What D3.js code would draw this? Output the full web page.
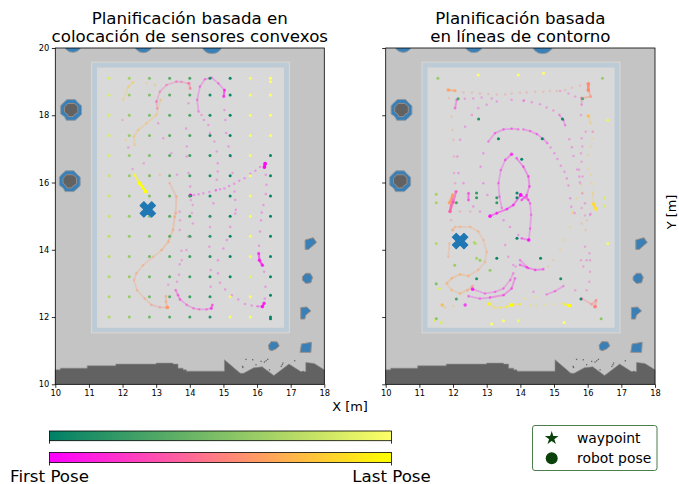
<!DOCTYPE html>
<html>
<head>
<meta charset="utf-8">
<script src="https://cdnjs.cloudflare.com/ajax/libs/d3/7.8.5/d3.min.js"></script>
<style>
  body { margin: 0; background: #fff; }
  text { font-family: "DejaVu Sans", sans-serif; fill: #000; }
</style>
</head>
<body>
<svg id="chart" width="679" height="484"></svg>
<script>
// waypoints: x, y, colour position on the green-yellow bar
const leftWaypoints = [
  [11.6,19.1,.85],[11.6,18.6,.85],[11.6,18,.85],[11.6,17.4,.85],[11.6,16.8,.85],[11.6,16.2,.8],[11.6,15.6,.8],[11.6,15,.8],[11.6,14.4,.75],[11.6,13.8,.75],[11.6,13.2,.7],[11.6,12.6,.7],[11.6,12,.7],
  [12.2,19.1,.65],[12.2,18.6,.6],[12.2,18,.6],[12.2,17.4,.6],[12.2,16.8,.6],[12.2,16.2,.6],[12.2,15.6,.6],[12.2,15,.6],[12.2,14.4,.6],[12.2,13.8,.6],[12.2,13.2,.6],[12.2,12.6,.6],[12.2,12,.6],
  [12.8,19.1,.5],[12.8,18.6,.5],[12.8,18,.5],[12.8,17.4,.5],[12.8,16.8,.5],[12.8,16.2,.5],[12.8,15.6,.5],[12.8,15,.5],[12.8,14.4,.5],[12.8,13.8,.45],[12.8,13.2,.45],[12.8,12.6,.45],[12.8,12,.45],
  [13.4,19.1,.35],[13.4,18.6,.35],[13.4,18,.35],[13.4,17.4,.35],[13.4,16.8,.35],[13.4,16.2,.35],[13.4,15.6,.35],[13.4,15,.35],[13.4,14.4,.35],[13.4,13.8,.35],[13.4,13.2,.35],[13.4,12.6,.35],[13.4,12,.35],
  [14,19.1,.3],[14,18.6,.3],[14,18,.3],[14,17.4,.3],[14,16.8,.25],[14,16.2,.25],[14,15.6,.2],[14,15,.25],[14,14.4,.25],[14,13.8,.25],[14,13.2,.25],[14,12.6,.25],[14,12,.25],
  [14.6,19.1,.1],[14.6,18.6,.08],[14.6,18,.1],[14.6,17.4,.1],[14.6,16.8,.15],[14.6,16.2,.12],[14.6,15.6,.1],[14.6,15,.15],[14.6,14.4,.15],[14.6,13.8,.15],[14.6,13.2,.15],[14.6,12.6,.15],[14.6,12,.15],
  [15.2,19.1,.04],[15.2,18.6,.04],[15.2,18,.04],[15.2,17.4,.04],[15.2,16.8,.04],[15.2,16.2,.04],[15.2,15.6,.04],[15.2,15,.04],[15.2,14.4,.04],[15.2,13.8,.04],[15.2,13.2,.04],[15.2,12.6,.98],[15.2,12,.98],
  [15.8,19.1,.98],[15.8,18.6,.98],[15.8,18,.98],[15.8,17.4,.98],[15.8,16.8,.98],[15.8,16.2,.98],[15.8,15.6,.98],[15.8,15,.98],[15.8,14.4,.98],[15.8,13.8,.98],[15.8,13.2,.9],[15.8,12.6,.98],[15.8,12,.98],
  [16.4,19.1,1],[16.4,19,1],[16.4,18.6,1],[16.4,18,1],[16.4,17.4,1],[16.4,16.8,.02],[16.4,16.2,.02],[16.4,15.6,.02],[16.4,15,.02],[16.4,14.4,.02],[16.4,13.8,.02],[16.4,13.2,.02],[16.4,12.65,.02],[16.4,12,.02],[16.4,11.95,.02]
];
const rightWaypoints = [
  [11.55,19.1,.6],[12.75,19.2,1],[13.94,19.2,1],[14.69,19.25,1],[16.44,19.1,.6],[12.15,18.49,.3],[15.85,18.49,.35],[12.76,17.89,.15],[15.25,17.89,.05],[16.6,17.85,.92],
  [13.35,17.3,.05],[14.65,17.3,.05],[14.04,16.69,.02],[11.5,15.65,.65],[11.5,15.4,.65],[12.1,15.4,.3],[12.7,15.69,.2],[12.7,15.55,.2],[13.3,15.55,.2],[13.3,15.4,.2],
  [13.9,15.69,.05],[13.9,15.55,.05],[16.5,15.54,.85],[16.5,15.3,.85],[13.9,14.34,.02],[11.5,14.19,.7],[12.63,14.22,.7],[12.66,14.19,.7],[16.6,14.19,.95],
  [12.7,13.75,.65],[12.8,13.69,.6],[13.3,13.75,.05],[14.6,13.75,.05],[12.05,13.54,.6],[13.1,13.39,.6],[12.7,13.14,.15],[15.2,13.14,.1],[11.5,12.99,.5],[11.6,12.84,.85],
  [12.1,12.54,.3],[15.8,12.54,.1],[11.5,11.95,.5],[11.45,11.9,.85],[16.4,11.95,.55],[11.65,11.84,.85],[13.15,11.79,1],[15.3,11.84,1],[13.5,11.89,1],[13.94,11.89,.95]
];

// robot poses: x, y, colour position on the magenta-yellow bar, samples stacked at that spot
const leftPoses = [
  [16.24,16.56,.02,8],[16.22,16.46,.02,8],[16.09,16.46,.03,1],[15.95,16.35,.03,1],[15.8,16.26,.03,1],[15.63,16.13,.03,1],[15.47,16.05,.03,1],[15.32,15.96,.03,1],[15.17,15.9,.03,1],[15.03,15.82,.04,1],[14.9,15.8,.04,1],[14.77,15.76,.04,1],[14.58,15.72,.04,1],[14.4,15.68,.04,1],[14.26,15.65,.04,1],[14.13,15.63,.05,1],[14.02,15.62,.05,8],
  [16.26,16.23,.04,1],[16.28,15.93,.04,1],[16.26,15.66,.04,1],[16.19,15.33,.04,1],[16.14,15.11,.05,1],[16.12,14.88,.05,1],[16.09,14.54,.05,1],[16.06,14.12,.05,1],[16.05,13.89,.05,5],[16.07,13.69,.05,6],[16.16,13.54,.05,6],[16.21,13.35,.05,1],[16.25,12.9,.05,1],[16.23,12.55,.05,1],[16.21,12.41,.05,6],[16.16,12.31,.05,7],
  [16.01,12.32,.06,2],[15.84,12.34,.06,1],[15.64,12.39,.06,1],[15.44,12.52,.06,1],[15.25,12.65,.06,1],[15.05,12.82,.06,1],[14.9,13.02,.06,1],[14.84,13.3,.06,1],[14.84,13.69,.06,1],[15,14.04,.06,1],[15.1,14.29,.06,1],[15.2,14.68,.06,1],[15.35,15.08,.06,1],[15.37,15.19,.06,1],[15.35,15.48,.06,1],[15.33,15.73,.06,1],[15.27,16.28,.06,1],[15.22,16.77,.06,1],[15.15,17.07,.06,1],[15.08,17.47,.06,1],[15.06,17.86,.06,1],[15.03,18.16,.07,1],[15.01,18.56,.07,5],[15.03,18.75,.07,5],
  [14.85,18.95,.1,2],[14.65,19.12,.1,2],[14.45,19.07,.1,2],[14.3,18.85,.1,2],[14.22,18.46,.1,2],[14.26,18.11,.1,2],[14.35,18.01,.1,1],[14.42,17.86,.1,1],[14.55,17.71,.1,1],[14.6,17.47,.1,1],[14.73,17.22,.1,1],[14.8,16.92,.1,1],[14.83,16.57,.1,1],[14.83,16.33,.1,1],[14.8,16.08,.1,1],[14.78,15.78,.1,1],[14.7,15.38,.1,1],[14.6,14.99,.1,1],[14.6,14.68,.1,1],[14.58,14.09,.1,1],[14.6,13.79,.1,1],[14.62,13.4,.1,1],[14.62,12.9,.1,1],[14.67,12.36,.1,4],[14.64,12.26,.1,5],
  [14.5,12.23,.15,2],[14.28,12.23,.15,2],[14.11,12.26,.15,2],[13.91,12.36,.15,2],[13.71,12.52,.15,3],[13.65,12.65,.15,3],[13.58,12.8,.15,3],[13.62,13.05,.15,1],[13.68,13.26,.15,1],[13.7,13.57,.15,1],[13.75,13.97,.15,1],[13.7,14.59,.15,1],[13.7,15.13,.15,1],[13.9,13.99,.2,1],[13.95,14.39,.2,1],[14.03,14.39,.2,1],[14.09,14.78,.2,1],[13.71,14.88,.2,1],[13.76,13.69,.2,1],[14.03,15.48,.2,1],[14.09,15.33,.2,1],[14.06,15.09,.2,1],
  [14.01,15.88,.1,1],[13.96,16.28,.1,1],[13.91,16.77,.1,1],[13.91,17.07,.1,1],[13.89,17.61,.1,1],[13.96,18.36,.2,1],[14.01,18.8,.45,5],[13.98,18.95,.4,4],[13.95,18.95,.35,2],[13.75,18.99,.3,2],[13.6,19,.3,3],[13.31,18.9,.25,2],[13.11,18.7,.3,2],[13.01,18.41,.3,4],[13.03,18.2,.25,2],
  [13.06,17.76,.2,1],[13.21,17.32,.2,1],[13.45,16.87,.18,1],[13.62,16.23,.2,1],[13.4,15.98,.55,2],[13.6,15.58,.6,3],[13.58,15.09,.6,3],[13.55,14.98,.6,3],[13.5,14.59,.62,3],[13.36,14.24,.62,3],[13.16,13.99,.62,3],[12.91,13.79,.6,2],[12.61,13.54,.6,2],[12.41,13.3,.6,2],[12.34,13.1,.6,2],[12.43,12.8,.6,2],[12.66,12.55,.6,2],[12.86,12.36,.5,2],[13.11,12.29,.5,2],[13.33,12.29,.6,8],[13.29,12.46,.6,3],[13.29,12.62,.6,3],[13.36,12.96,.2,1],
  [13.13,18.46,.7,3],[13.01,18.01,.72,2],[12.71,17.76,.72,2],[12.46,17.56,.72,2],[12.34,17.37,.72,2],[12.36,17.12,.72,2],[12.17,17.04,.2,1],[12.3,16.4,.2,1],[12.36,16.23,1,5],[12.51,15.98,1,8],[12.69,15.73,1,8],
  [12.96,18.9,.72,3],[12.71,18.95,.75,1],[12.31,18.98,.78,4],[12.17,18.85,.78,2],[12.02,18.46,.78,2],[12,17.86,.3,1],[12.1,17.27,.78,1],[12.63,16.57,.2,1],[12.81,16.23,.6,1],[13.11,16.23,.6,1]
];
const rightPoses = [
  [11.86,18.75,.62,7],[12.06,18.73,.62,5],[12.31,18.68,.5,1],[12.56,18.67,.5,1],[12.8,18.65,.5,1],[13.05,18.63,.5,1],[13.3,18.62,.5,1],[13.55,18.62,.5,1],[13.74,18.65,.5,1],[13.99,18.67,.5,1],[14.19,18.68,.5,1],[14.44,18.7,.5,1],[14.68,18.7,.55,1],[14.88,18.72,.55,1],[15.08,18.72,.55,1],[15.33,18.75,.55,1],[15.53,18.82,.55,1],[15.77,18.88,.55,1],[16.02,18.93,.55,8],[16.02,18.75,.55,8],[16.09,18.56,.55,4],
  [15.82,18.51,.2,4],[15.82,18.31,.2,2],[15.63,18.56,.2,1],[15.43,18.65,.2,1],[15.18,18.72,.2,1],[14.11,18.44,.1,1],[14.34,18.39,.1,1],[14.58,18.33,.1,1],[14.78,18.23,.1,1],[14.98,18.14,.1,1],[15.16,18.01,.1,2],[15.28,17.86,.1,2],[15.33,17.7,.1,2],[15.45,17.29,.1,1],[15.53,17.05,.1,1],[15.58,16.79,.1,1],[15.69,16.39,.1,1],[15.75,16.18,.1,1],[15.77,16,.1,1],[15.84,15.68,.1,1],[15.92,15.38,.1,1],[16.07,15.04,.1,1],
  [14.09,17.58,.05,2],[14.29,17.53,.05,2],[14.49,17.44,.05,2],[14.68,17.3,.05,2],[14.8,17.17,.05,2],[14.9,17.04,.05,1],[15.01,16.87,.05,1],[15.1,16.7,.05,1],[15.2,16.5,.05,1],[15.31,16.32,.05,1],[15.38,16.12,.05,1],[15.43,15.91,.05,1],[15.48,15.53,.05,1],[15.51,15.28,.05,1],[15.61,15.09,.05,1],
  [16.02,17.98,.75,7],[16.09,17.76,.78,2],[16.15,17.51,.78,1],[16.13,17.3,.78,1],[16.1,17.07,.78,1],[16.02,16.82,.78,1],[16.02,16.42,.78,1],[16.09,16.23,.8,1],[16.12,15.98,.8,1],[16.15,15.7,.8,2],[16.17,15.36,.85,7],[16.25,15.21,.9,7],
  [15.94,17.51,.2,1],[15.82,17.32,.2,1],[15.84,17.07,.2,1],[15.8,16.87,.2,1],[15.82,16.62,.2,1],[15.75,16.38,.2,1],[15.85,16.18,.2,1],[15.8,15.95,.7,1],[15.86,15.7,.8,1],[15.67,15.53,.8,1],[15.82,15.24,.3,1],[15.56,15.12,.8,1],[15.92,15.02,.3,1],[16.09,15.07,.3,1],[15.8,18.01,.2,1],[16.15,17.51,.2,1],
  [16.22,12.31,.5,8],[16.25,12.5,.5,4],[16.12,12.38,.5,3],[15.82,12.55,.2,4],[15.63,12.8,.2,1],[15.97,12.8,.2,1],[16.05,13.05,.2,1],[16.07,13.35,.2,1],[15.87,13.5,.2,1],[15.8,13.69,.2,1],[15.97,13.69,.2,1],[16.07,13.69,.2,1],[15.92,14.09,.2,1],[16.05,13.9,.2,1],[15.94,14.59,.6,1],[15.97,14.88,.6,1],[15.82,14.78,.6,1],[15.53,15.08,.8,1],[15.48,14.68,.8,1],[15.33,14.29,.8,1],[15.18,13.99,.8,1],[14.98,13.69,.7,1],[14.83,13.5,.7,1],
  [14.68,13.42,.06,3],[14.44,13.4,.06,3],[14.19,13.48,.06,3],[13.99,13.55,.06,3],[15.28,12.92,.1,2],[15.03,12.77,.1,2],[14.78,12.67,.1,2],[14.39,12.75,.1,1],[14.44,12.6,.9,1],[14.14,12.55,.9,1],
  [15.46,12.34,1,8],[15.3,12.38,.95,4],[15.23,12.41,.9,1],[14.98,12.38,.9,1],[14.73,12.36,.9,1],[14.49,12.33,.9,1],[14.29,12.36,.9,1],[13.99,12.38,.92,3],[13.74,12.36,1,8],[13.58,12.3,.95,3],[13.4,12.28,.9,2],[13.25,12.28,.9,2],[13.07,12.39,.95,7],
  [12.36,12.36,.02,6],[12.01,12.33,.7,1],[11.76,12.29,.7,1],[11.68,12.36,.72,7],[12.58,12.83,.05,7],[12.95,12.7,.1,2],[13.25,12.75,.1,2],[13.5,12.85,.12,2],[13.7,13.1,.12,2],[13.79,13.3,.12,2],[13.79,13.55,.12,1],[13.64,13.79,.1,1],[13.55,14.14,.1,1],
  [12.46,12.62,.06,3],[12.8,12.55,.06,2],[13.1,12.58,.1,3],[13.5,12.65,.1,3],[13.74,12.85,.1,3],[13.84,13.15,.1,3],[13.86,13.5,.1,1],
  [11.99,14.59,.62,5],[12.06,14.68,.62,2],[12.21,14.68,.62,2],[12.51,14.68,.62,2],[12.75,14.54,.62,2],[12.9,14.29,.62,2],[13,13.94,.62,2],[12.95,13.64,.62,2],[12.75,13.4,.62,2],[12.46,13.22,.65,3],[12.21,13.27,.65,3],[11.96,13.15,.65,3],[11.81,13,.65,3],[11.96,12.8,.65,2],[12.21,12.7,.65,3],[12.43,12.8,.6,3],[12.58,12.92,.5,4],[11.89,14.19,.62,2],[11.86,13.79,.62,2],
  [13.1,15,.02,7],[13.3,15.09,.03,4],[13.6,15.21,.03,4],[13.79,15.33,.03,4],[14.01,15.63,.01,8],[14.24,15.48,.04,3],[13.74,16.84,.05,6],[13.55,16.67,.05,3],[13.42,16.37,.05,2],[13.35,15.98,.05,2],[13.38,15.58,.05,2],[13.45,15.24,.05,2],
  [13.89,16.72,.06,3],[14.09,16.47,.06,3],[14.24,16.18,.06,3],[14.27,15.88,.06,3],[14.19,15.63,.06,3],[14.04,15.48,.06,3],[14.19,15.58,.05,2],[14.29,15.38,.05,2],[14.32,15.04,.05,2],[14.29,14.63,.05,2],[14.25,14.29,.02,7],[14.04,14.34,.04,3],[13.94,14.44,.04,1],[13.69,14.68,.04,1],[13.5,14.88,.04,1],[13.3,15.08,.04,1],[13.99,13.69,.06,2],[14.24,13.45,.06,2],
  [13.94,17.58,.05,2],[13.74,17.6,.05,2],[13.5,17.58,.05,2],[13.25,17.47,.05,2],[13.05,17.22,.05,2],[12.9,16.87,.05,1],[12.82,16.47,.05,1],[12.9,15.98,.05,1],[13.02,15.63,.05,1],
  [13.3,18.41,.08,1],[13,18.31,.08,1],[12.75,18.21,.08,2],[12.56,18.01,.08,1],[12.36,17.66,.08,1],[12.21,17.27,.08,1],[12.13,16.77,.08,1],[12.16,16.28,.08,1],[12.31,15.98,.08,1],[12.46,15.68,.08,4],[12.46,15.48,.08,4],[12.6,15.29,.08,1],[12.8,15.14,.08,1],
  [12.11,18.46,.15,3],[12.06,18.21,.15,3],[12.35,18.49,.15,1],[12.6,18.5,.15,1],[12.85,18.53,.15,1],[13.15,18.5,.15,1],[13.74,18.46,.15,1],[14.09,18.43,.15,1],
  [11.88,18.51,.6,1],[11.96,17.96,.6,1],[11.98,17.56,.6,1],[12.01,17.27,.5,1],[12.03,16.77,.4,1],[12.03,16.28,.3,1],[12.06,15.98,.3,1],[12.09,15.73,.25,5],[12.01,15.42,.28,5],[11.91,15.14,.35,7],[11.99,15.63,.62,6],[11.89,15.4,.62,6],[12.21,15.14,.4,1],[12.51,15.14,.4,1],[11.94,14.88,.4,1]
];

const startPose = { left: [12.75, 15.2], right: [12.21, 14.26] };

// occupancy map outlines, in metres
const roomOuter = { x0: 11.08, x1: 16.96, y0: 11.53, y1: 19.58 };
const roomInner = { x0: 11.24, x1: 16.8, y0: 11.68, y1: 19.42 };
const groundLine = [[10,10],[10,10.43],[10.15,10.43],[10.15,10.48],[10.95,10.48],[10.95,10.55],[11.8,10.55],[11.8,10.6],[13,10.6],[13,10.63],[13.5,10.63],[13.5,10.6],[13.65,10.6],[13.65,10.48],[13.8,10.48],[13.8,10.43],[13.9,10.43],[13.9,10.39],[15.03,10.39],[15.03,10.73],[15.5,10.33],[15.6,10.33],[15.9,10.49],[16.15,10.52],[16.5,10.26],[16.95,10.6],[17.3,10.38],[17.45,10.38],[17.45,10.65],[17.7,10.62],[18,10.43],[18,10]];
const speckles = [[15.65,10.76],[15.85,10.75],[16.1,10.7],[16.25,10.72],[16.3,10.76],[16.2,10.68],[15.55,10.55],[15.56,10.52],[15.95,10.6],[16.75,10.65],[16.73,10.6],[17.1,10.72],[16.7,10.55],[16.35,10.45],[17.35,10.4]];
const columnRing = [[-.31,-.12],[-.2,-.2],[-.14,-.31],[.12,-.31],[.2,-.24],[.31,-.13],[.31,.12],[.22,.2],[.12,.31],[-.12,.31],[-.22,.22],[-.31,.12]];
const columnCore = [[-.2,-.06],[-.1,-.14],[-.08,-.2],[.06,-.2],[.1,-.14],[.2,-.08],[.2,.1],[.1,.19],[-.1,.19],[-.2,.08]];
const columns = [[10.47,18.16],[10.43,16.04]];
const topColumns = [[10.52,20.14,.27],[12.62,20.14,.28],[14.66,20.16,.33]];
const blocks = [
  [[17.43,14.29],[17.67,14.36],[17.77,14.22],[17.53,14.01],[17.43,14.01]],
  [[17.35,13.2],[17.45,13.3],[17.58,13.3],[17.65,13.18],[17.6,13.02],[17.45,13],[17.35,13.1]],
  [[17.3,12.28],[17.48,12.3],[17.6,12.18],[17.45,12.06],[17.42,11.94],[17.3,11.94]],
  [[16.34,11.16],[16.42,11.27],[16.6,11.26],[16.66,11.14],[16.56,11.05],[16.44,11],[16.36,11.03]],
  [[17.32,11.2],[17.62,11.25],[17.6,10.95],[17.28,10.95]]
];

const xTicks = [10,11,12,13,14,15,16,17,18];
const yTicks = [10,12,14,16,18,20];
const legendItems = ["waypoint", "robot pose"];

const svg = d3.select("#chart");
const summer = d3.scaleLinear().domain([0,1]).range(["#008066","#ffff66"]);
const spring = d3.scaleLinear().domain([0,1]).range(["#ff00ff","#ffff00"]);
const poseAlpha = d3.scaleLinear().domain([1,2,4,8]).range([.3,.26,.42,1]);
const poseSize = d3.scaleLinear().domain([1,8]).range([1.25,1.9]);

function drawPanel(panel, left, titleLines, waypoints, poses, start, showY) {
  const x = d3.scaleLinear().domain([10,18]).range(left);
  const y = d3.scaleLinear().domain([10,20]).range([384.3,48]);
  const g = svg.append("g");
  const poly = d3.line().x(d => x(d[0])).y(d => y(d[1]));

  // map
  g.append("rect").attr("x",x(10)).attr("y",y(20)).attr("width",x(18)-x(10)).attr("height",y(10)-y(20)).attr("fill","#c4c4c4");
  g.append("rect").attr("x",x(roomOuter.x0)).attr("y",y(roomOuter.y1)).attr("width",x(roomOuter.x1)-x(roomOuter.x0)).attr("height",y(roomOuter.y0)-y(roomOuter.y1)).attr("fill","#bccbd5").attr("stroke","#dcd8d4").attr("stroke-width",1);
  g.append("rect").attr("x",x(roomInner.x0)).attr("y",y(roomInner.y1)).attr("width",x(roomInner.x1)-x(roomInner.x0)).attr("height",y(roomInner.y0)-y(roomInner.y1)).attr("fill","#d9d9d9");
  g.append("path").attr("d",poly(groundLine)+"Z").attr("fill","#626262").attr("stroke","#8a8a8a").attr("stroke-width",.6);
  g.selectAll(".speck").data(speckles).join("rect").attr("x",d=>x(d[0])).attr("y",d=>y(d[1])).attr("width",1.3).attr("height",1.3).attr("fill","#666");

  columns.forEach(c => {
    g.append("path").attr("d",poly(columnRing.map(p=>[c[0]+p[0],c[1]+p[1]]))+"Z").attr("fill","#3a7fb5").attr("stroke","#8f9aa3").attr("stroke-width",1);
    g.append("path").attr("d",poly(columnCore.map(p=>[c[0]+p[0],c[1]+p[1]]))+"Z").attr("fill","#626262").attr("stroke","#b39a88").attr("stroke-width",.7);
  });
  const clip = "clip" + panel;
  svg.append("clipPath").attr("id",clip).append("rect").attr("x",x(10)).attr("y",y(20)).attr("width",x(18)-x(10)).attr("height",y(10)-y(20));
  g.append("g").attr("clip-path",`url(#${clip})`).selectAll("circle").data(topColumns).join("circle")
    .attr("cx",d=>x(d[0])).attr("cy",d=>y(d[1])).attr("r",d=>x(10+d[2])-x(10)).attr("fill","#3a7fb5").attr("stroke","#8f9aa3");
  g.selectAll(".block").data(blocks).join("path").attr("d",d=>poly(d)+"Z").attr("fill","#3a7fb5").attr("stroke","#9a8f88").attr("stroke-width",1);

  // poses: runs of slow samples read as a solid streak
  const streak = g.append("g");
  poses.forEach((p,i) => {
    const n = poses[i+1];
    if (n && p[3] >= 2 && n[3] >= 2 && Math.hypot(n[0]-p[0],n[1]-p[1]) < .5) {
      const w = Math.min(p[3],n[3]);
      streak.append("line").attr("x1",x(p[0])).attr("y1",y(p[1])).attr("x2",x(n[0])).attr("y2",y(n[1]))
        .attr("stroke",spring(p[2])).attr("stroke-width",poseSize(w)*1.3)
        .attr("stroke-linecap","round").attr("opacity",poseAlpha(w));
    }
  });
  g.append("g").selectAll("circle").data(poses).join("circle")
    .attr("cx",d=>x(d[0])).attr("cy",d=>y(d[1])).attr("r",d=>poseSize(d[3]))
    .attr("fill",d=>spring(d[2])).attr("opacity",d=>poseAlpha(d[3]));

  g.append("g").selectAll("circle").data(waypoints).join("circle")
    .attr("cx",d=>x(d[0])).attr("cy",d=>y(d[1])).attr("r",1.5).attr("fill",d=>summer(d[2]));

  // start marker
  const mx = x(start[0]), my = y(start[1]);
  g.append("path").attr("transform",`translate(${mx},${my}) rotate(45)`)
    .attr("d",d3.symbol().type(d3.symbolCross).size(150)()).attr("fill","#1f77b4").attr("stroke","#1f77b4").attr("stroke-width",1).attr("stroke-linejoin","round");

  // axes
  const ax = g.append("g").attr("transform",`translate(0,${y(10)})`).call(d3.axisBottom(x).tickValues(xTicks).tickSize(3.5).tickSizeOuter(0).tickPadding(2.5).tickFormat(d3.format("d")));
  const ay = g.append("g").attr("transform",`translate(${x(10)},0)`).call(d3.axisLeft(y).tickValues(yTicks).tickSize(3.5).tickSizeOuter(0).tickPadding(2.5).tickFormat(showY ? d3.format("d") : ""));
  [ax,ay].forEach(a => { a.selectAll("text").attr("font-size",8.3).attr("font-family","DejaVu Sans"); a.selectAll("line").attr("stroke","#000").attr("stroke-width",.8); a.select(".domain").remove(); });
  g.append("rect").attr("x",x(10)).attr("y",y(20)).attr("width",x(18)-x(10)).attr("height",y(10)-y(20)).attr("fill","none").attr("stroke","#000").attr("stroke-width",.8);

  g.selectAll(".ttl").data(titleLines).join("text").attr("x",(left[0]+left[1])/2).attr("y",(d,i)=>24+i*18.3)
    .attr("text-anchor","middle").attr("font-size",16.67).text(d=>d);
}

drawPanel("L",[55.3,324.3],["Planificación basada en","colocación de sensores convexos"],leftWaypoints,leftPoses,startPose.left,true);
drawPanel("R",[385.7,655],["Planificación basada","en líneas de contorno"],rightWaypoints,rightPoses,startPose.right,false);

svg.append("text").attr("x",350).attr("y",411).attr("text-anchor","middle").attr("font-size",12.9).text("X [m]");
svg.append("text").attr("transform","translate(676,212) rotate(-90)").attr("text-anchor","middle").attr("font-size",12.9).text("Y [m]");

// colour bars
const defs = svg.append("defs");
function colorBar(id, scale, top, h) {
  const grad = defs.append("linearGradient").attr("id",id);
  grad.selectAll("stop").data([0,1]).join("stop").attr("offset",d=>d).attr("stop-color",d=>scale(d));
  svg.append("rect").attr("x",49.5).attr("y",top).attr("width",342).attr("height",h).attr("fill",`url(#${id})`).attr("stroke","#000").attr("stroke-width",.8);
  [49.5,391.5].forEach(t => svg.append("line").attr("x1",t).attr("x2",t).attr("y1",top+h).attr("y2",top+h+3).attr("stroke","#000").attr("stroke-width",.8));
}
colorBar("gWay",summer,431,9.7);
colorBar("gPose",spring,452.5,10);
svg.append("text").attr("x",49.5).attr("y",481.5).attr("text-anchor","middle").attr("font-size",16.67).text("First Pose");
svg.append("text").attr("x",391.5).attr("y",481.5).attr("text-anchor","middle").attr("font-size",16.67).text("Last Pose");

// legend
svg.append("rect").attr("x",532.5).attr("y",425.5).attr("width",124.5).attr("height",45).attr("rx",2.5).attr("fill","#fff").attr("stroke","#4d7c4d").attr("stroke-width",1);
svg.append("path").attr("transform","translate(551.7,438.3)").attr("d",d3.symbol().type(d3.symbolStar).size(58)()).attr("fill","#0b420b");
svg.append("circle").attr("cx",551.7).attr("cy",458.3).attr("r",6).attr("fill","#0b420b");
svg.selectAll(".lg").data(legendItems).join("text").attr("x",577).attr("y",(d,i)=>442.5+i*20.5).attr("font-size",13.9).text(d=>d);
</script>
</body>
</html>
